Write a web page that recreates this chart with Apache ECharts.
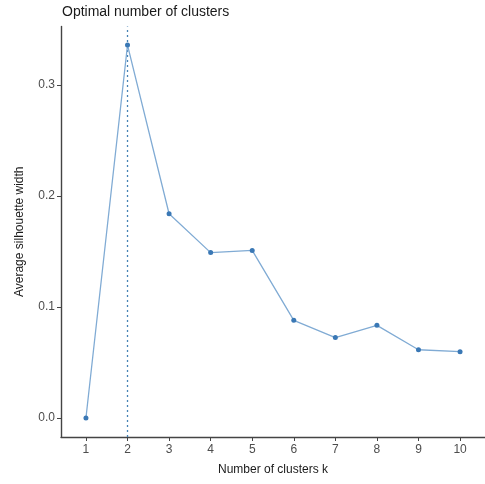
<!DOCTYPE html>
<html>
<head>
<meta charset="utf-8">
<script src="https://cdn.jsdelivr.net/npm/echarts@6/dist/echarts.min.js"></script>
<style>html,body{margin:0;padding:0;background:#fff}#c{width:485px;height:484px}</style>
</head>
<body>
<div id="c"></div>
<script>
var clusters = [1, 2, 3, 4, 5, 6, 7, 8, 9, 10];
var silhouette = [0.0, 0.336, 0.184, 0.149, 0.151, 0.088, 0.0725, 0.0835, 0.0615, 0.0598];
var yTicks = [0.0, 0.1, 0.2, 0.3];
var optimalK = 2;
var yMin = -0.0171, yMax = 0.3527;

var chart = echarts.init(document.getElementById('c'), null, {renderer: 'canvas'});
var font = 'Liberation Sans, Arial, sans-serif';
chart.setOption({
  animation: false,
  title: {
    text: 'Optimal number of clusters',
    left: 62, top: 5, padding: 0,
    textStyle: {fontFamily: font, fontSize: 14, fontWeight: 'normal', color: '#1a1a1a'}
  },
  grid: {left: 61, right: -1, top: 26.5, bottom: 47, containLabel: false},
  xAxis: {
    type: 'value', min: 0.4, max: 10.6,
    name: 'Number of clusters k', nameLocation: 'middle', nameGap: 27,
    nameTextStyle: {fontFamily: font, fontSize: 12, color: '#1a1a1a'},
    axisLine: {show: true, onZero: false, lineStyle: {color: '#444', width: 1.4}},
    axisTick: {show: true, length: 4, customValues: clusters, lineStyle: {color: '#444'}},
    axisLabel: {customValues: clusters, fontFamily: font, fontSize: 12, color: '#4d4d4d', margin: 7},
    splitLine: {show: false}
  },
  yAxis: {
    type: 'value', min: yMin, max: yMax,
    name: 'Average silhouette width', nameLocation: 'middle', nameGap: 35,
    nameTextStyle: {fontFamily: font, fontSize: 12, color: '#1a1a1a'},
    axisLine: {show: true, onZero: false, lineStyle: {color: '#444', width: 1.4}},
    axisTick: {show: true, length: 4, customValues: yTicks, lineStyle: {color: '#444'}},
    axisLabel: {customValues: yTicks, fontFamily: font, fontSize: 12, color: '#4d4d4d', margin: 6,
      formatter: function (v) { return v.toFixed(1); }},
    splitLine: {show: false}
  },
  series: [{
    type: 'line',
    data: [[optimalK, yMin], [optimalK, yMax]],
    symbol: 'none', silent: true, z: 1,
    lineStyle: {color: '#4682b4', type: [2, 3], width: 1.3}
  }, {
    type: 'line',
    data: clusters.map(function (k, i) { return [k, silhouette[i]]; }),
    symbol: 'circle', symbolSize: 5, z: 2,
    itemStyle: {color: '#3a78b5'},
    lineStyle: {color: '#80abd4', width: 1.3}
  }]
});
</script>
</body>
</html>
